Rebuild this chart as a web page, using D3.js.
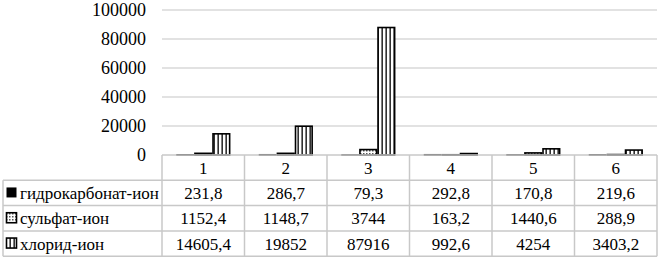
<!DOCTYPE html>
<html>
<head>
<meta charset="utf-8">
<script src="https://cdn.jsdelivr.net/npm/d3@7"></script>
</head>
<body style="margin:0">
<script>
// data
var categories = ["1", "2", "3", "4", "5", "6"];
var seriesNames = ["гидрокарбонат-ион", "сульфат-ион", "хлорид-ион"];
var bicarbonate = [231.8, 286.7, 79.3, 292.8, 170.8, 219.6];
var sulfate = [1152.4, 1148.7, 3744, 163.2, 1440.6, 288.9];
var chloride = [14605.4, 19852, 87916, 992.6, 4254, 3403.2];
var yTicks = [0, 20000, 40000, 60000, 80000, 100000];

var series = [bicarbonate, sulfate, chloride];
var fills = ["#000", "url(#dots)", "url(#stripes)"];

var W = 660, H = 260;
var plot = {left: 162, right: 657, top: 10, bottom: 155};
var rowH = 25.3;
var tableLeft = 3;

var svg = d3.select("body").append("svg")
  .attr("width", W)
  .attr("height", H)
  .style("font", "17px 'Liberation Serif'");

var defs = svg.append("defs");
var dots = defs.append("pattern")
  .attr("id", "dots")
  .attr("patternUnits", "userSpaceOnUse")
  .attr("width", 3).attr("height", 3);
dots.append("rect").attr("width", 3).attr("height", 3).attr("fill", "#fff");
dots.append("rect").attr("width", 1.5).attr("height", 1.5).attr("fill", "#555");

var stripes = defs.append("pattern")
  .attr("id", "stripes")
  .attr("patternUnits", "userSpaceOnUse")
  .attr("width", 4).attr("height", 4);
stripes.append("rect").attr("width", 4).attr("height", 4).attr("fill", "#fff");
stripes.append("rect").attr("x", 1.5).attr("width", 1.3).attr("height", 4).attr("fill", "#000");

var x = d3.scaleBand()
  .domain(categories)
  .range([plot.left, plot.right]);

var y = d3.scaleLinear()
  .domain([0, 100000])
  .range([plot.bottom, plot.top]);

var xInner = d3.scaleBand()
  .domain(d3.range(series.length))
  .range([x.bandwidth() * 0.18, x.bandwidth() * 0.82])
  .paddingInner(0.08);

// gridlines
svg.append("g")
  .selectAll("line")
  .data(yTicks.slice(1))
  .join("line")
  .attr("x1", plot.left)
  .attr("x2", plot.right)
  .attr("y1", function(d) { return y(d); })
  .attr("y2", function(d) { return y(d); })
  .attr("stroke", "#d9d9d9")
  .attr("stroke-width", 1.5);

// y tick labels
svg.append("g")
  .selectAll("text")
  .data(yTicks)
  .join("text")
  .attr("x", plot.left - 16)
  .attr("y", function(d) { return y(d) + 6; })
  .attr("text-anchor", "end")
  .style("font", "18px 'Liberation Serif'")
  .text(function(d) { return d; });

// bars
series.forEach(function(values, si) {
  svg.append("g")
    .selectAll("rect")
    .data(values)
    .join("rect")
    .attr("x", function(d, i) { return x(categories[i]) + xInner(si); })
    .attr("y", function(d) { return y(d); })
    .attr("width", xInner.bandwidth())
    .attr("height", function(d) { return y(0) - y(d); })
    .attr("fill", fills[si])
    .attr("stroke", "#000")
    .attr("stroke-width", si === 0 ? 1.2 : 1.6);
});

// data table
var table = svg.append("g");
var gridColor = "#c8c8c8";
var tableBottom = plot.bottom + rowH * 4;

table.append("line")
  .attr("x1", plot.left).attr("x2", plot.right)
  .attr("y1", plot.bottom).attr("y2", plot.bottom)
  .attr("stroke", gridColor).attr("stroke-width", 1.5);
table.selectAll("line.h")
  .data(d3.range(1, 5))
  .join("line")
  .attr("class", "h")
  .attr("x1", tableLeft).attr("x2", plot.right)
  .attr("y1", function(d) { return plot.bottom + d * rowH; })
  .attr("y2", function(d) { return plot.bottom + d * rowH; })
  .attr("stroke", gridColor).attr("stroke-width", 1.5);

table.selectAll("line.v")
  .data(categories.map(function(c) { return x(c); }).concat([plot.right]))
  .join("line")
  .attr("class", "v")
  .attr("x1", function(d) { return d; }).attr("x2", function(d) { return d; })
  .attr("y1", plot.bottom).attr("y2", tableBottom)
  .attr("stroke", gridColor).attr("stroke-width", 1.5);
table.append("line")
  .attr("x1", tableLeft).attr("x2", tableLeft)
  .attr("y1", plot.bottom + rowH).attr("y2", tableBottom)
  .attr("stroke", gridColor).attr("stroke-width", 1.5);

// header row
table.selectAll("text.cat")
  .data(categories)
  .join("text")
  .attr("class", "cat")
  .attr("x", function(d) { return x(d) + x.bandwidth() / 2; })
  .attr("y", plot.bottom + rowH / 2 + 6)
  .attr("text-anchor", "middle")
  .style("font", "17px 'Liberation Serif'")
  .text(function(d) { return d; });

var fmt = function(v) { return String(v).replace(".", ","); };

series.forEach(function(values, si) {
  var rowY = plot.bottom + rowH * (si + 1);
  var row = table.append("g");
  row.append("rect")
    .attr("x", 6.5).attr("y", rowY + rowH / 2 - 5.5)
    .attr("width", 10).attr("height", 10)
    .attr("fill", fills[si])
    .attr("stroke", "#000")
    .attr("stroke-width", si === 0 ? 0 : 1.6);
  row.append("text")
    .attr("x", 20)
    .attr("y", rowY + rowH / 2 + 6)
    .style("font", "17px 'Liberation Serif'")
    .text(seriesNames[si]);
  row.selectAll("text.v")
    .data(values)
    .join("text")
    .attr("class", "v")
    .attr("x", function(d, i) { return x(categories[i]) + x.bandwidth() / 2; })
    .attr("y", rowY + rowH / 2 + 6)
    .attr("text-anchor", "middle")
    .style("font", "17px 'Liberation Serif'")
    .text(fmt);
});
</script>
</body>
</html>
